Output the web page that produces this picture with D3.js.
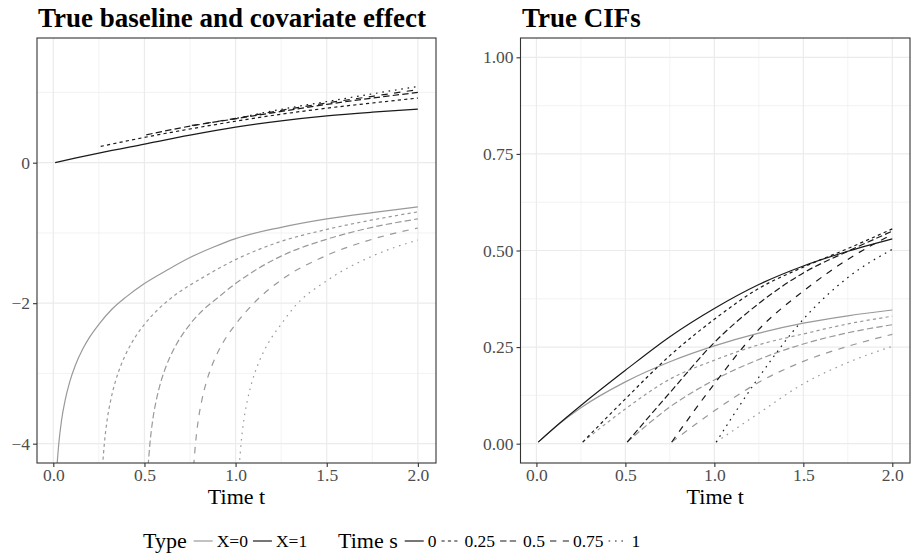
<!DOCTYPE html>
<html>
<head>
<meta charset="utf-8">
<script src="https://cdn.jsdelivr.net/npm/d3@7"></script>
<style>
  body { margin: 0; background: #fff; }
  text { font-family: "Liberation Serif", serif; }
</style>
</head>
<body>
<svg id="chart" width="913" height="560"></svg>
<script>
// Landmark times s and legend labels
const sValues = [0, 0.25, 0.5, 0.75, 1];
const sLabels = ["0", "0.25", "0.5", "0.75", "1"];
const typeLabels = ["X=0", "X=1"];
const xTicks = [0, 0.5, 1, 1.5, 2];
const leftYTicks = [0, -2, -4];
const rightYTicks = [0, 0.25, 0.5, 0.75, 1];

// Left panel, X=0 (grey): [t, value], one array per s
const leftX0_s0 = [[0.02,-4.32],[0.03,-4.0],[0.045,-3.67],[0.065,-3.38],[0.09,-3.12],[0.12,-2.89],[0.16,-2.66],[0.2,-2.48],[0.25,-2.3],[0.32,-2.09],[0.4,-1.91],[0.5,-1.72],[0.63,-1.52],[0.75,-1.35],[0.88,-1.2],[1.0,-1.08],[1.25,-0.92],[1.5,-0.8],[1.75,-0.71],[2.0,-0.63]];
const leftX0_s025 = [[0.27,-4.32],[0.28,-4.0],[0.295,-3.67],[0.315,-3.38],[0.34,-3.12],[0.37,-2.89],[0.41,-2.66],[0.45,-2.48],[0.5,-2.3],[0.57,-2.1],[0.65,-1.92],[0.83,-1.62],[1.0,-1.38],[1.25,-1.12],[1.5,-0.95],[1.75,-0.815],[2.0,-0.7]];
const leftX0_s05 = [[0.52,-4.32],[0.53,-4.0],[0.545,-3.67],[0.565,-3.38],[0.59,-3.12],[0.62,-2.89],[0.66,-2.66],[0.7,-2.48],[0.75,-2.3],[0.82,-2.1],[0.88,-1.97],[1.0,-1.72],[1.25,-1.33],[1.5,-1.09],[1.75,-0.92],[2.0,-0.8]];
const leftX0_s075 = [[0.77,-4.32],[0.78,-4.0],[0.795,-3.67],[0.815,-3.38],[0.84,-3.12],[0.87,-2.89],[0.91,-2.66],[0.95,-2.48],[1.0,-2.3],[1.1,-2.0],[1.25,-1.67],[1.5,-1.32],[1.75,-1.09],[2.0,-0.93]];
const leftX0_s1 = [[1.02,-4.32],[1.03,-4.0],[1.045,-3.67],[1.065,-3.38],[1.09,-3.12],[1.12,-2.89],[1.16,-2.66],[1.2,-2.48],[1.25,-2.3],[1.32,-2.06],[1.5,-1.68],[1.75,-1.33],[2.0,-1.1]];

// Left panel, X=1 (black)
const leftX1_s0 = [[0.01,0.0],[0.125,0.068],[0.25,0.137],[0.5,0.265],[0.75,0.392],[1.0,0.506],[1.25,0.596],[1.5,0.667],[1.75,0.719],[2.0,0.762]];
const leftX1_s025 = [[0.26,0.232],[0.5,0.36],[0.75,0.48],[1.0,0.59],[1.25,0.69],[1.5,0.776],[1.75,0.85],[2.0,0.92]];
const leftX1_s05 = [[0.51,0.397],[0.75,0.52],[1.0,0.625],[1.25,0.73],[1.5,0.83],[1.75,0.92],[2.0,1.0]];
const leftX1_s075 = [[0.76,0.53],[1.0,0.63],[1.25,0.745],[1.5,0.85],[1.75,0.945],[2.0,1.04]];
const leftX1_s1 = [[1.01,0.634],[1.25,0.76],[1.5,0.87],[1.75,0.98],[2.0,1.085]];

// Right panel (CIFs), X=0 (grey)
const rightX0_s0 = [[0.01,0.004],[0.125,0.05],[0.25,0.093],[0.5,0.16],[0.75,0.212],[1.0,0.253],[1.25,0.286],[1.5,0.312],[1.75,0.331],[2.0,0.346]];
const rightX0_s025 = [[0.26,0.004],[0.5,0.09],[0.75,0.167],[1.0,0.216],[1.25,0.256],[1.5,0.284],[1.75,0.31],[2.0,0.33]];
const rightX0_s05 = [[0.51,0.004],[0.75,0.095],[1.0,0.165],[1.25,0.218],[1.5,0.258],[1.75,0.287],[2.0,0.308]];
const rightX0_s075 = [[0.76,0.004],[1.0,0.085],[1.25,0.159],[1.5,0.213],[1.75,0.252],[2.0,0.283]];
const rightX0_s1 = [[1.01,0.004],[1.25,0.079],[1.5,0.155],[1.75,0.21],[2.0,0.252]];

// Right panel (CIFs), X=1 (black)
const rightX1_s0 = [[0.01,0.004],[0.125,0.051],[0.25,0.099],[0.5,0.19],[0.75,0.277],[1.0,0.35],[1.25,0.412],[1.5,0.46],[1.75,0.498],[2.0,0.53]];
const rightX1_s025 = [[0.26,0.004],[0.5,0.116],[0.75,0.228],[1.0,0.322],[1.25,0.402],[1.5,0.457],[1.75,0.505],[2.0,0.556]];
const rightX1_s05 = [[0.51,0.004],[0.75,0.132],[1.0,0.262],[1.25,0.363],[1.5,0.442],[1.75,0.498],[2.0,0.55]];
const rightX1_s075 = [[0.76,0.004],[1.0,0.155],[1.25,0.296],[1.5,0.395],[1.75,0.477],[2.0,0.542]];
const rightX1_s1 = [[1.01,0.004],[1.25,0.172],[1.5,0.322],[1.75,0.43],[2.0,0.503]];

const leftSeries = [
  [leftX0_s0, leftX0_s025, leftX0_s05, leftX0_s075, leftX0_s1],
  [leftX1_s0, leftX1_s025, leftX1_s05, leftX1_s075, leftX1_s1]
];
const rightSeries = [
  [rightX0_s0, rightX0_s025, rightX0_s05, rightX0_s075, rightX0_s1],
  [rightX1_s0, rightX1_s025, rightX1_s05, rightX1_s075, rightX1_s1]
];

// styles
const typeColors = ["#999999", "#1a1a1a"];
const dashes = [null, "3.2,3.2", "6.4,3.2", "6.4,6.4", "1.6,4.8"];
const tickColor = "#4d4d4d";
const gridColor = "#ebebeb";

const svg = d3.select("#chart");
svg.append("rect").attr("width", 913).attr("height", 560).attr("fill", "#fff");

function drawPanel(opt) {
  const x = d3.scaleLinear().domain([-0.0895, 2.0995]).range([opt.left, opt.right]);
  const y = d3.scaleLinear().domain(opt.yDomain).range([opt.bottom, opt.top]);
  const g = svg.append("g");

  // grid: minor then major
  const xMinor = [0.25, 0.75, 1.25, 1.75];
  g.selectAll(".gxm").data(xMinor).join("line")
    .attr("x1", d => x(d)).attr("x2", d => x(d))
    .attr("y1", opt.top).attr("y2", opt.bottom)
    .attr("stroke", gridColor).attr("stroke-width", 0.6);
  g.selectAll(".gym").data(opt.yMinor).join("line")
    .attr("y1", d => y(d)).attr("y2", d => y(d))
    .attr("x1", opt.left).attr("x2", opt.right)
    .attr("stroke", gridColor).attr("stroke-width", 0.6);
  g.selectAll(".gx").data(xTicks).join("line")
    .attr("x1", d => x(d)).attr("x2", d => x(d))
    .attr("y1", opt.top).attr("y2", opt.bottom)
    .attr("stroke", gridColor).attr("stroke-width", 1.2);
  g.selectAll(".gy").data(opt.yTicks).join("line")
    .attr("y1", d => y(d)).attr("y2", d => y(d))
    .attr("x1", opt.left).attr("x2", opt.right)
    .attr("stroke", gridColor).attr("stroke-width", 1.2);

  // lines, clipped to the panel
  const clipId = "clip-" + opt.id;
  svg.append("clipPath").attr("id", clipId).append("rect")
    .attr("x", opt.left).attr("y", opt.top)
    .attr("width", opt.right - opt.left).attr("height", opt.bottom - opt.top);
  const line = d3.line().curve(d3.curveMonotoneX).x(d => x(d[0])).y(d => y(d[1]));
  const lg = g.append("g").attr("clip-path", "url(#" + clipId + ")");
  opt.series.forEach((group, ti) => {
    group.forEach((pts, si) => {
      lg.append("path").datum(pts)
        .attr("fill", "none")
        .attr("stroke", typeColors[ti])
        .attr("stroke-width", 1.2)
        .attr("stroke-dasharray", dashes[si])
        .attr("d", line);
    });
  });

  // border
  g.append("rect").attr("x", opt.left).attr("y", opt.top)
    .attr("width", opt.right - opt.left).attr("height", opt.bottom - opt.top)
    .attr("fill", "none").attr("stroke", "#333333").attr("stroke-width", 1.1);

  // axes
  const ax = g.append("g").attr("transform", `translate(0,${opt.bottom})`)
    .call(d3.axisBottom(x).tickValues(xTicks).tickFormat(d3.format(".1f")).tickSizeOuter(0).tickSize(4).tickPadding(2));
  const ay = g.append("g").attr("transform", `translate(${opt.left},0)`)
    .call(d3.axisLeft(y).tickValues(opt.yTicks).tickFormat(opt.yFormat).tickSizeOuter(0).tickSize(4).tickPadding(3));
  [ax, ay].forEach(a => {
    a.select(".domain").remove();
    a.selectAll(".tick line").attr("stroke", "#333333").attr("stroke-width", 1.1);
    a.selectAll(".tick text").attr("fill", tickColor)
      .style("font-family", '"Liberation Serif", serif').style("font-size", "17.5px");
  });

  // titles
  g.append("text").attr("x", opt.titleX).attr("y", 27)
    .attr("font-size", 27).attr("font-weight", "bold").attr("fill", "#000")
    .text(opt.title);
  g.append("text").attr("x", (opt.left + opt.right) / 2).attr("y", 504)
    .attr("text-anchor", "middle").attr("font-size", 22)
    .attr("fill", "#000").text("Time t");
}

drawPanel({
  id: "left", left: 37, right: 436, top: 38, bottom: 463, titleX: 38,
  yDomain: [-4.275, 1.775], yTicks: leftYTicks, yMinor: [1, -1, -3],
  yFormat: d => d3.format("d")(d).replace("-", "\u2212"),
  series: leftSeries, title: "True baseline and covariate effect"
});
drawPanel({
  id: "right", left: 520.5, right: 910, top: 38, bottom: 463, titleX: 522,
  yDomain: [-0.05, 1.05], yTicks: rightYTicks, yMinor: [0.125, 0.375, 0.625, 0.875],
  yFormat: d3.format(".2f"),
  series: rightSeries, title: "True CIFs"
});

// legend along the bottom, laid out from measured text widths
const legY = 541;
const leg = svg.append("g");
let cx = 0;
function addText(str, size) {
  const t = leg.append("text").attr("x", cx).attr("y", legY + size * 0.33)
    .attr("font-size", size).attr("fill", "#000").text(str);
  cx += t.node().getComputedTextLength();
}
function addKey(color, dash) {
  leg.append("line").attr("x1", cx).attr("x2", cx + 19)
    .attr("y1", legY).attr("y2", legY)
    .attr("stroke", color).attr("stroke-width", 1.2)
    .attr("stroke-dasharray", dash);
  cx += 19;
}
cx = 143;
addText("Type", 22); cx += 7;
typeLabels.forEach((lab, i) => {
  addKey(typeColors[i], null); cx += 4;
  addText(lab, 17.5); cx += 5;
});
cx = 338;
addText("Time s", 22); cx += 7;
sLabels.forEach((lab, i) => {
  addKey("#1a1a1a", dashes[i]); cx += 4;
  addText(lab, 17.5); cx += 5;
});
</script>
</body>
</html>
